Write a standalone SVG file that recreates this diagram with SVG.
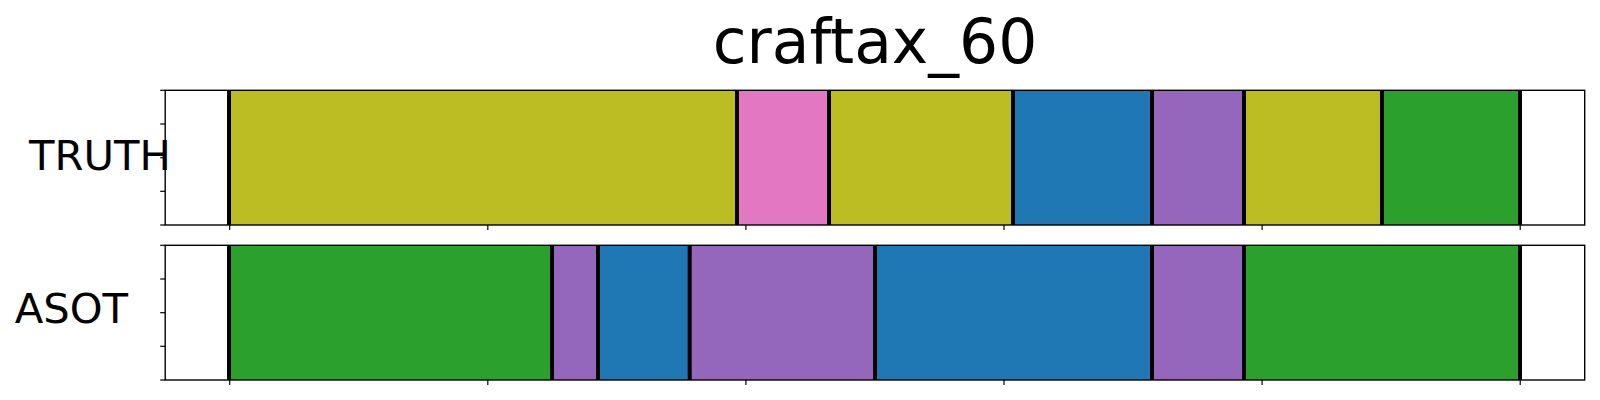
<svg xmlns="http://www.w3.org/2000/svg" width="1600" height="400" viewBox="0 0 1600 400">
<style>
text{font-family:"DejaVu Sans","Liberation Sans",sans-serif;fill:#000}
.olive{fill:#bcbd22}.pink{fill:#e377c2}.blue{fill:#1f77b4}.purple{fill:#9467bd}.green{fill:#2ca02c}
.bd{stroke:#000;stroke-width:4}
.spine{fill:none;stroke:#000;stroke-width:1.4}
.tick{stroke:#000;stroke-width:1.2}
</style>
<rect width="1600" height="400" fill="#fff"/>
<text id="title" x="875" y="63" font-size="61.5" text-anchor="middle">craftax_60</text>
<g id="truth">
<text x="29" y="170" font-size="41.7">TRUTH</text>
<rect class="olive" x="229" y="90.3" width="508" height="134.7"/>
<rect class="pink" x="737" y="90.3" width="92" height="134.7"/>
<rect class="olive" x="829" y="90.3" width="184" height="134.7"/>
<rect class="blue" x="1013" y="90.3" width="139" height="134.7"/>
<rect class="purple" x="1152" y="90.3" width="92" height="134.7"/>
<rect class="olive" x="1244" y="90.3" width="138" height="134.7"/>
<rect class="green" x="1382" y="90.3" width="138" height="134.7"/>
<g class="bd">
<line x1="229" y1="90.3" x2="229" y2="225"/>
<line x1="737" y1="90.3" x2="737" y2="225"/>
<line x1="829" y1="90.3" x2="829" y2="225"/>
<line x1="1013" y1="90.3" x2="1013" y2="225"/>
<line x1="1152" y1="90.3" x2="1152" y2="225"/>
<line x1="1244" y1="90.3" x2="1244" y2="225"/>
<line x1="1382" y1="90.3" x2="1382" y2="225"/>
<line x1="1520" y1="90.3" x2="1520" y2="225"/>
</g>
<rect class="spine" x="165.2" y="90.3" width="1419.5" height="134.7"/>
<g class="tick">
<line x1="160.2" y1="90.3" x2="165.2" y2="90.3"/>
<line x1="160.2" y1="124" x2="165.2" y2="124"/>
<line x1="160.2" y1="157.7" x2="165.2" y2="157.7"/>
<line x1="160.2" y1="191.3" x2="165.2" y2="191.3"/>
<line x1="160.2" y1="225" x2="165.2" y2="225"/>
<line x1="229.7" y1="225" x2="229.7" y2="230"/>
<line x1="487.8" y1="225" x2="487.8" y2="230"/>
<line x1="745.9" y1="225" x2="745.9" y2="230"/>
<line x1="1004" y1="225" x2="1004" y2="230"/>
<line x1="1262.1" y1="225" x2="1262.1" y2="230"/>
<line x1="1520.2" y1="225" x2="1520.2" y2="230"/>
</g>
</g>
<g id="asot">
<text x="14.7" y="323.3" font-size="41.7">ASOT</text>
<rect class="green" x="229" y="245.3" width="323" height="134.7"/>
<rect class="purple" x="552" y="245.3" width="46" height="134.7"/>
<rect class="blue" x="598" y="245.3" width="91.7" height="134.7"/>
<rect class="purple" x="689.7" y="245.3" width="185.3" height="134.7"/>
<rect class="blue" x="875" y="245.3" width="277" height="134.7"/>
<rect class="purple" x="1152" y="245.3" width="92" height="134.7"/>
<rect class="green" x="1244" y="245.3" width="276" height="134.7"/>
<g class="bd">
<line x1="229" y1="245.3" x2="229" y2="380"/>
<line x1="552" y1="245.3" x2="552" y2="380"/>
<line x1="598" y1="245.3" x2="598" y2="380"/>
<line x1="689.7" y1="245.3" x2="689.7" y2="380"/>
<line x1="875" y1="245.3" x2="875" y2="380"/>
<line x1="1152" y1="245.3" x2="1152" y2="380"/>
<line x1="1244" y1="245.3" x2="1244" y2="380"/>
<line x1="1520" y1="245.3" x2="1520" y2="380"/>
</g>
<rect class="spine" x="165.2" y="245.3" width="1419.5" height="134.7"/>
<g class="tick">
<line x1="160.2" y1="245.3" x2="165.2" y2="245.3"/>
<line x1="160.2" y1="279" x2="165.2" y2="279"/>
<line x1="160.2" y1="312.7" x2="165.2" y2="312.7"/>
<line x1="160.2" y1="346.3" x2="165.2" y2="346.3"/>
<line x1="160.2" y1="380" x2="165.2" y2="380"/>
<line x1="229.7" y1="380" x2="229.7" y2="385"/>
<line x1="487.8" y1="380" x2="487.8" y2="385"/>
<line x1="745.9" y1="380" x2="745.9" y2="385"/>
<line x1="1004" y1="380" x2="1004" y2="385"/>
<line x1="1262.1" y1="380" x2="1262.1" y2="385"/>
<line x1="1520.2" y1="380" x2="1520.2" y2="385"/>
</g>
</g>
</svg>
